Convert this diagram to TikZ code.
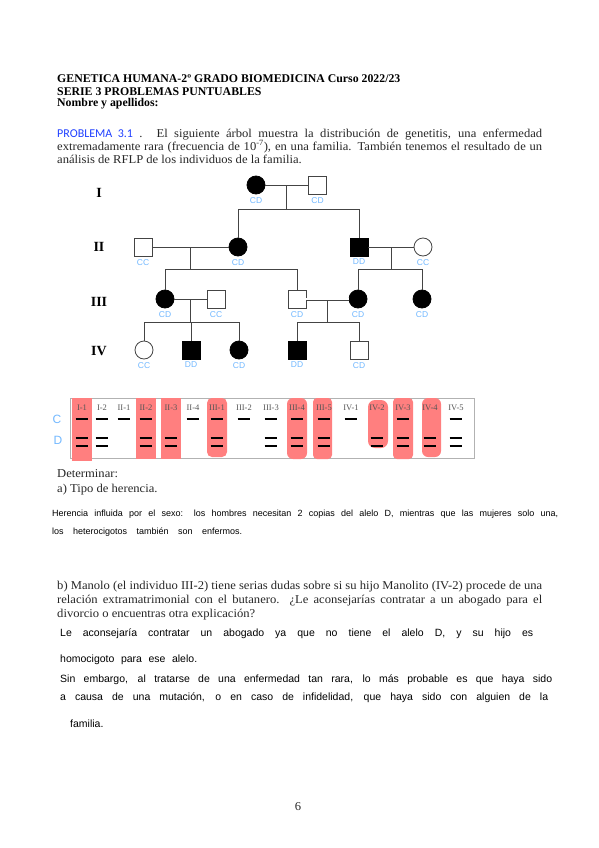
\documentclass[tikz,border=0pt]{standalone}
\usepackage{fontspec}
\setmainfont{Liberation Serif}
\newfontfamily\bodyfont{Liberation Serif}[FakeStretch=1.05]
\newfontfamily\handfont{Liberation Sans}
\newfontfamily\calfont{Carlito}
\usetikzlibrary{positioning,calc}

\definecolor{linegray}{HTML}{444444}
\definecolor{genoblue}{HTML}{72B8FF}
\definecolor{lanered}{HTML}{FF7F7F}
\definecolor{labgray}{HTML}{555555}
\definecolor{probblue}{HTML}{1F3FFF}

\begin{document}
\begin{tikzpicture}[x=1pt, y=-1pt,
    male/.style={draw=linegray, line width=0.8pt, rectangle, minimum size=18pt, inner sep=0pt},
    female/.style={draw=linegray, line width=0.8pt, circle, minimum size=18pt, inner sep=0pt},
    ill/.style={fill=black, draw=black},
    geno/.style={font=\handfont\fontsize{8.5}{8.5}\selectfont, text=genoblue, inner sep=0.5pt},
    gen/.style={font=\bfseries\fontsize{14}{14}\selectfont, inner sep=0pt},
    txt/.style={anchor=base west, inner sep=0pt, font=\bodyfont\fontsize{12}{13}\selectfont, text=black!85},
    head/.style={anchor=base west, inner sep=0pt, font=\bfseries\fontsize{11.8}{12}\selectfont},
    hand/.style={anchor=base west, inner sep=0pt, font=\handfont\fontsize{10.5}{10.5}\selectfont},
    link/.style={draw=linegray, line width=0.8pt},
    band/.style={line width=2.3pt, black},
    lane/.style={font=\fontsize{8.5}{8.5}\selectfont, text=labgray, inner sep=0pt}
  ]
  \useasboundingbox (0,0) rectangle (599,848);

  %% ---- header ----
  \node[head] (t1) at (57,83)   {GENETICA HUMANA-2º GRADO BIOMEDICINA Curso 2022/23};
  \node[head] (t2) at (57,95.5) {SERIE 3 PROBLEMAS PUNTUABLES};
  \node[head] (t3) at (57,107)  {Nombre y apellidos:};

  \node[txt] (p1) at (57,137) {\makebox[485pt][s]{{\calfont\color{probblue}PROBLEMA 3.1} . El siguiente árbol muestra la distribución de genetitis, una enfermedad}};
  \node[txt] (p2) at (57,150) {\makebox[485pt][s]{extremadamente rara (frecuencia de 10\textsuperscript{-7}), en una familia. También tenemos el resultado de un}};
  \node[txt] (p3) at (57,163) {análisis de RFLP de los individuos de la familia.};

  %% ---- pedigree ----
  \node[gen] (gI)   at (99,193) {I};
  \node[gen] (gII)  at (99,247) {II};
  \node[gen] (gIII) at (99,302) {III};
  \node[gen] (gIV)  at (99,351) {IV};

  \node[female, ill] (i1)  at (256,185)   {};
  \node[male]        (i2)  at (317.5,185) {};

  \node[male]        (ii1) at (143,247) {};
  \node[female, ill] (ii2) at (238,247) {};
  \node[male, ill]   (ii3) at (359,247) {};
  \node[female]      (ii4) at (423,247) {};

  \node[female, ill] (iii1) at (165,299) {};
  \node[male]        (iii2) at (216,299) {};
  \node[male]        (iii3) at (297,299) {};
  \node[female, ill] (iii4) at (358,299) {};
  \node[female, ill] (iii5) at (422,299) {};

  \node[female]      (iv1) at (144,350) {};
  \node[male, ill]   (iv2) at (191,350) {};
  \node[female, ill] (iv3) at (239,350) {};
  \node[male, ill]   (iv4) at (297,350) {};
  \node[male]        (iv5) at (359,350) {};

  % couples and sibships
  \draw[link] (i1) -- (i2);
  \coordinate (m1) at ($(i1)!0.5!(i2)$);
  \coordinate (s1) at ($(m1)+(0,24)$);
  \draw[link] (m1) -- (s1);
  \draw[link] (ii2) |- (s1);
  \draw[link] (ii3) |- (s1);

  \draw[link] (ii1) -- (ii2);
  \coordinate (m2) at ($(ii1)!0.5!(ii2)$);
  \coordinate (s2) at ($(m2)+(0,22)$);
  \draw[link] (m2) -- (s2);
  \draw[link] (iii1) |- (s2);
  \draw[link] (iii3) |- (s2);

  \draw[link] (ii3) -- (ii4);
  \coordinate (m3) at ($(ii3)!0.5!(ii4)$);
  \coordinate (s3) at ($(m3)+(0,22)$);
  \draw[link] (m3) -- (s3);
  \draw[link] (iii4) |- (s3);
  \draw[link] (iii5) |- (s3);

  \draw[link] (iii1) -- (iii2);
  \coordinate (m4) at ($(iii1)!0.5!(iii2)$);
  \coordinate (s4) at ($(m4)+(0,23)$);
  \draw[link] (m4) -- (s4);
  \draw[link] (iv1) |- (s4);
  \draw[link] (iv2) |- (s4);
  \draw[link] (iv3) |- (s4);

  \draw[link, line width=0.7pt, double=white, double distance=1.6pt] (iii3) -- (iii4);
  \coordinate (m5) at ($(iii3)!0.5!(iii4)+(0,1.2)$);
  \coordinate (s5) at ($(m5)+(0,22)$);
  \draw[link] (m5) -- (s5);
  \draw[link] (iv4) |- (s5);
  \draw[link] (iv5) |- (s5);

  % genotypes
  \foreach \p/\g in {i1/CD, i2/CD, ii1/CC, ii2/CD, ii3/DD, ii4/CC,
                     iii1/CD, iii2/CC, iii3/CD, iii4/CD, iii5/CD,
                     iv1/CC, iv2/DD, iv3/CD, iv4/DD, iv5/CD}
    \node[geno, below=2pt of \p] (g\p) {\g};

  %% ---- RFLP gel ----
  \node[draw=gray!60, line width=0.8pt, minimum width=404pt, minimum height=60pt,
        inner sep=0pt, anchor=north west] (gel) at (70,398) {};
  \foreach \xa/\xb/\ya/\yb/\rc in {72/92/398/461/0, 136/156/398/459/0, 161/181/398/459/0,
      207/227/398/457/5, 287/307/398/459/6, 313/332/398/459/4, 368/388/400/448/7,
      393/413/398/459/4, 422/441/398/457/6}
    \fill[lanered, rounded corners=\rc pt] (\xa,\ya) rectangle (\xb,\yb);

  \node[geno, font=\handfont\fontsize{12}{12}\selectfont] (cC) at (57,419) {C};
  \node[geno, font=\handfont\fontsize{12}{12}\selectfont] (cD) at (58,440) {D};

  \foreach \lab/\x/\c/\d in {I-1/82/1/1, I-2/102/1/1, II-1/124/1/0, II-2/146/1/1,
      II-3/171/0/1, II-4/193/1/0, III-1/217/1/1, III-2/244/1/0, III-3/271/1/1,
      III-4/297/1/1, III-5/324/1/1, IV-1/351/1/0, IV-2/377/0/1, IV-3/403/1/1,
      IV-4/430/0/1, IV-5/456/1/1} {
    \node[lane] (l\lab) at (\x,408) {\lab};
    \ifnum\c=1 \draw[band] (\x-6.3,419) -- (\x+6.3,419); \fi
    \ifnum\d=1
      \draw[band] (\x-6.3,438) -- (\x+6.3,438);
      \draw[band] (\x-6.3,446) -- (\x+6.3,446);
    \fi
  }

  %% ---- question a ----
  \node[txt] (qd) at (57,477) {Determinar:};
  \node[txt] (qa) at (57,492) {a) Tipo de herencia.};
  \node[hand, font=\handfont\fontsize{9}{9}\selectfont] (ha1) at (52,516) {\makebox[506pt][s]{Herencia influida por el sexo: los hombres necesitan 2 copias del alelo D, mientras que las mujeres solo una,}};
  \node[hand, font=\handfont\fontsize{9}{9}\selectfont] (ha2) at (52,534) {\makebox[190pt][s]{los heterocigotos también son enfermos.}};

  %% ---- question b ----
  \node[txt] (qb1) at (57,589) {\makebox[485pt][s]{b) Manolo (el individuo III-2) tiene serias dudas sobre si su hijo Manolito (IV-2) procede de una}};
  \node[txt] (qb2) at (57,603) {\makebox[485pt][s]{relación extramatrimonial con el butanero. ¿Le aconsejarías contratar a un abogado para el}};
  \node[txt] (qb3) at (57,617) {divorcio o encuentras otra explicación?};

  \node[hand] (hb1) at (60,636) {\makebox[473pt][s]{Le aconsejaría contratar un abogado ya que no tiene el alelo D, y su hijo es}};
  \node[hand] (hb2) at (60,662) {\makebox[137pt][s]{homocigoto para ese alelo.}};
  \node[hand] (hb3) at (60,682) {\makebox[492pt][s]{Sin embargo, al tratarse de una enfermedad tan rara, lo más probable es que haya sido}};
  \node[hand] (hb4) at (60,700) {\makebox[488pt][s]{a causa de una mutación, o en caso de infidelidad, que haya sido con alguien de la}};
  \node[hand] (hb5) at (70,727) {familia.};

  \node[txt, anchor=base] (pg) at (298,810) {6};
\end{tikzpicture}
\end{document}
